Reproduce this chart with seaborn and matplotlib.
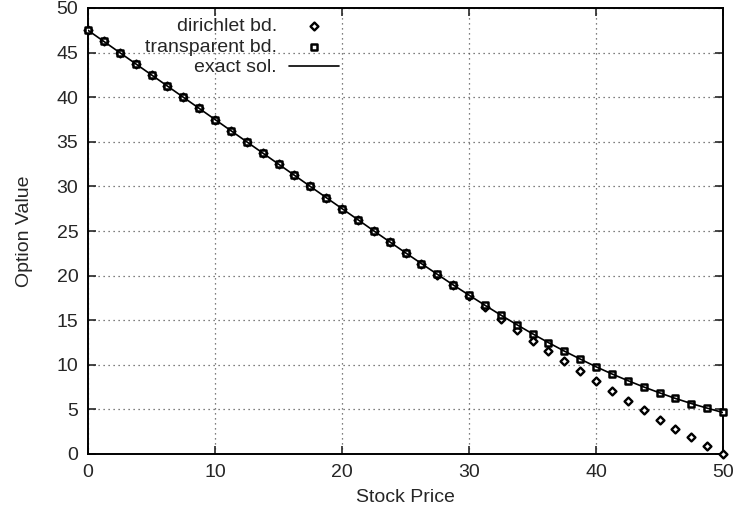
import numpy as np
import pandas as pd
import matplotlib
matplotlib.use("Agg")
import matplotlib.pyplot as plt
import seaborn as sns

# stock price grid (41 nodes)
stock_price = [0.0, 1.25, 2.5, 3.75, 5.0, 6.25, 7.5, 8.75, 10.0, 11.25,
               12.5, 13.75, 15.0, 16.25, 17.5, 18.75, 20.0, 21.25, 22.5, 23.75,
               25.0, 26.25, 27.5, 28.75, 30.0, 31.25, 32.5, 33.75, 35.0, 36.25,
               37.5, 38.75, 40.0, 41.25, 42.5, 43.75, 45.0, 46.25, 47.5, 48.75, 50.0]

exact_sol = [47.50, 46.25, 45.00, 43.75, 42.50, 41.25, 40.00, 38.75, 37.50, 36.25,
             35.00, 33.75, 32.50, 31.25, 30.00, 28.75, 27.51, 26.27, 25.02, 23.79,
             22.56, 21.35, 20.15, 18.96, 17.81, 16.68, 15.58, 14.51, 13.48, 12.49,
             11.54, 10.65, 9.78, 8.98, 8.23, 7.52, 6.86, 6.23, 5.66, 5.14, 4.65]

transparent_bd = [47.50, 46.25, 45.00, 43.75, 42.50, 41.25, 40.00, 38.75, 37.50, 36.25,
                  35.00, 33.75, 32.50, 31.25, 30.00, 28.75, 27.51, 26.27, 25.02, 23.79,
                  22.56, 21.35, 20.15, 18.96, 17.80, 16.68, 15.58, 14.51, 13.48, 12.49,
                  11.54, 10.65, 9.78, 8.98, 8.23, 7.52, 6.86, 6.23, 5.66, 5.14, 4.70]

dirichlet_bd = [47.50, 46.25, 45.00, 43.75, 42.50, 41.25, 40.00, 38.75, 37.50, 36.25,
                35.00, 33.75, 32.50, 31.25, 30.00, 28.75, 27.51, 26.27, 25.02, 23.79,
                22.55, 21.33, 20.10, 18.90, 17.70, 16.45, 15.15, 13.90, 12.70, 11.55,
                10.45, 9.30, 8.20, 7.08, 5.98, 4.88, 3.80, 2.83, 1.87, 0.93, 0.00]

df = pd.DataFrame({"S": stock_price, "exact": exact_sol,
                   "transparent": transparent_bd, "dirichlet": dirichlet_bd})

sns.set_style("ticks")
plt.rcParams["font.family"] = ["Liberation Sans", "DejaVu Sans"]
fs = 14

fig = plt.figure(figsize=(7.37, 5.16), dpi=100)
ax = fig.add_axes([88 / 737, 62 / 516, 635 / 737, 446 / 516])

sns.scatterplot(data=df, x="S", y="dirichlet", ax=ax, marker="D", s=16,
                facecolor="white", edgecolor="black", linewidth=1.7,
                label="dirichlet bd.", zorder=3, clip_on=False)
sns.scatterplot(data=df, x="S", y="transparent", ax=ax, marker="s", s=15,
                facecolor="white", edgecolor="black", linewidth=1.8,
                label="transparent bd.", zorder=3, clip_on=False)
sns.lineplot(data=df, x="S", y="exact", ax=ax, color="black", linewidth=1.2,
             label="exact sol.", zorder=4)

ax.set_xlim(0, 50)
ax.set_ylim(0, 50)
ax.set_xticks(np.arange(0, 51, 10))
ax.set_yticks(np.arange(0, 51, 5))
ax.grid(True, linestyle=(0, (1, 3)), color="#555555", linewidth=0.9)
ax.tick_params(direction="in", length=6, width=1.2, top=True, right=True,
               labelsize=fs, pad=7)
for sp in ax.spines.values():
    sp.set_linewidth(1.4)
    sp.set_color("black")

ax.set_xlabel("Stock Price", fontsize=fs, labelpad=6)
ax.set_ylabel("Option Value", fontsize=fs, labelpad=17)

ax.legend(loc="upper right", bbox_to_anchor=(0.411, 1.0), frameon=False,
          markerfirst=False, handlelength=2.6, handletextpad=0.6,
          borderpad=0, labelspacing=0.15, fontsize=fs)

fig.savefig("out.png", dpi=100)
